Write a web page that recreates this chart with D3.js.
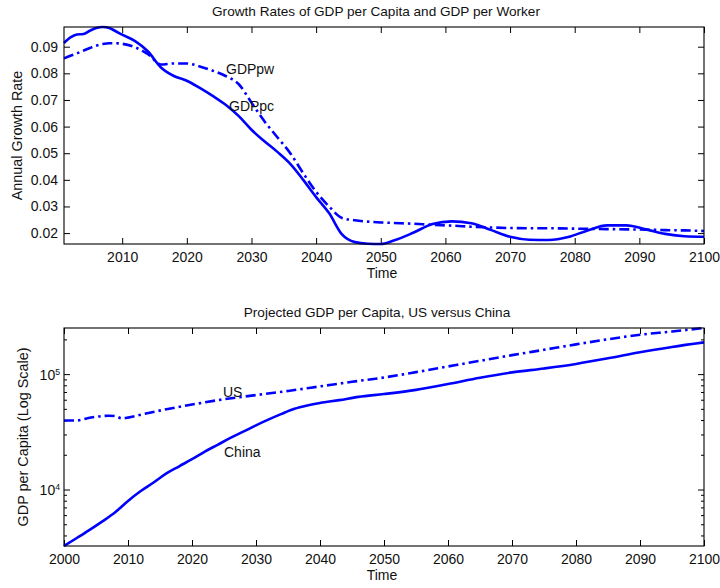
<!DOCTYPE html>
<html>
<head>
<meta charset="utf-8">
<script src="https://cdn.jsdelivr.net/npm/d3@7/dist/d3.min.js"></script>
<style>
  html, body { margin: 0; padding: 0; background: #fff; }
  svg { display: block; font-family: "Liberation Sans", Arial, sans-serif; }
  .tick text { fill: #111; }
</style>
</head>
<body>
<svg id="chart" width="720" height="588"></svg>
<script>
// ---- growth rates (upper panel) ----
const growthYears = [2001, 2002, 2003, 2004, 2005, 2006, 2007, 2008, 2009, 2010,
  2012, 2014, 2016, 2018, 2020, 2022, 2024, 2026, 2028, 2030,
  2032, 2034, 2036, 2038, 2040, 2042, 2044, 2046, 2048, 2050,
  2052, 2055, 2058, 2061, 2064, 2067, 2070, 2073, 2076, 2079,
  2082, 2085, 2088, 2091, 2094, 2097, 2100];
const gdpPerCapitaGrowth = [0.0914, 0.0935, 0.0946, 0.0948, 0.0960, 0.0970, 0.0974, 0.0970, 0.0958, 0.0945,
  0.0921, 0.0882, 0.0822, 0.0790, 0.0772, 0.0745, 0.0715, 0.0682, 0.0640, 0.0588,
  0.0545, 0.0505, 0.0460, 0.0400, 0.0335, 0.0275, 0.0195, 0.0166, 0.0160, 0.0159,
  0.0172, 0.0201, 0.0234, 0.0244, 0.0237, 0.0212, 0.0186, 0.0175, 0.0174, 0.0185,
  0.0210, 0.0229, 0.0229, 0.0214, 0.0197, 0.0188, 0.0186];
const gdpPerWorkerGrowth = [0.0856, 0.0866, 0.0875, 0.0885, 0.0895, 0.0904, 0.0910, 0.0913, 0.0913, 0.0911,
  0.0898, 0.0872, 0.0833, 0.0837, 0.0837, 0.0826, 0.0810, 0.0790, 0.0760, 0.0690,
  0.0620, 0.0560, 0.0500, 0.0425, 0.0355, 0.0300, 0.0257, 0.0248, 0.0243, 0.0240,
  0.0238, 0.0235, 0.0231, 0.0228, 0.0224, 0.0221, 0.0219, 0.0218, 0.0218, 0.0217,
  0.0216, 0.0215, 0.0214, 0.0213, 0.0211, 0.0210, 0.0208];
const growthTicks = [0.02, 0.03, 0.04, 0.05, 0.06, 0.07, 0.08, 0.09];
const growthYearTicks = [2010, 2020, 2030, 2040, 2050, 2060, 2070, 2080, 2090, 2100];

// ---- GDP per capita levels (lower panel) ----
const chinaYears = [2000, 2002, 2004, 2006, 2008, 2010, 2012, 2014, 2016, 2018,
  2020, 2022, 2024, 2026, 2028, 2030, 2032, 2034, 2036, 2038,
  2040, 2043, 2046, 2050, 2055, 2060, 2065, 2070, 2075, 2080,
  2085, 2090, 2095, 2100];
const chinaGdp = [3240, 3800, 4470, 5300, 6350, 7960, 9700, 11500, 13780, 15900,
  18300, 21300, 24400, 28000, 31700, 36000, 40500, 45200, 50000, 53500,
  56300, 59500, 63500, 67200, 73000, 82000, 93000, 103500, 112000, 122500,
  137000, 155000, 172000, 188300];
const usYears = [2000, 2002, 2004, 2006, 2007, 2008, 2009, 2010, 2012, 2016,
  2020, 2025, 2030, 2035, 2040, 2045, 2050, 2055, 2060, 2065,
  2070, 2075, 2080, 2085, 2090, 2095, 2100];
const usGdp = [39550, 39700, 41800, 43300, 43600, 43300, 41400, 42000, 44500, 49600,
  54500, 60600, 65800, 71500, 78300, 85800, 93500, 104000, 116500, 130500,
  146000, 162500, 181000, 200500, 219500, 234000, 251000];
const levelYearTicks = [2000, 2010, 2020, 2030, 2040, 2050, 2060, 2070, 2080, 2090, 2100];
const levelMajorTicks = [1e4, 1e5];

const svg = d3.select("#chart");
const FS = 14;
const BLUE = "#0000ff";
const DASHDOT = "10,4,2.5,4";

function frame(g, w, h) {
  g.append("rect").attr("width", w).attr("height", h)
    .attr("fill", "none").attr("stroke", "#000").attr("stroke-width", 1.1);
}
function clean(sel) {
  sel.select(".domain").remove();
  sel.selectAll(".tick line").attr("stroke", "#000");
  sel.selectAll(".tick text").attr("font-size", FS);
}

// ================= upper panel =================
const P1 = { left: 64, top: 27, w: 640, h: 217 };
const g1 = svg.append("g").attr("transform", `translate(${P1.left},${P1.top})`);

const x1 = d3.scaleLinear().domain([2001, 2100]).range([0, P1.w]);
const y1 = d3.scaleLinear()
  .domain(d3.extent(gdpPerCapitaGrowth.concat(gdpPerWorkerGrowth)))
  .range([P1.h, 0]);

g1.append("g").attr("transform", `translate(0,${P1.h})`)
  .call(d3.axisBottom(x1).tickValues(growthYearTicks).tickFormat(d3.format("d"))
    .tickSizeInner(-6).tickSizeOuter(0).tickPadding(8)).call(clean);
g1.append("g")
  .call(d3.axisTop(x1).tickValues(growthYearTicks).tickFormat("")
    .tickSizeInner(-6).tickSizeOuter(0)).call(clean);
g1.append("g")
  .call(d3.axisLeft(y1).tickValues(growthTicks).tickFormat(d3.format(".2f"))
    .tickSizeInner(-6).tickSizeOuter(0).tickPadding(6)).call(clean);
g1.append("g").attr("transform", `translate(${P1.w},0)`)
  .call(d3.axisRight(y1).tickValues(growthTicks).tickFormat("")
    .tickSizeInner(-6).tickSizeOuter(0)).call(clean);

svg.append("clipPath").attr("id", "clip1")
  .append("rect").attr("x", -2).attr("y", -2).attr("width", P1.w + 4).attr("height", P1.h + 4);

const line1 = (vals) => d3.line()
  .x((d, i) => x1(growthYears[i])).y(d => y1(d))
  .curve(d3.curveMonotoneX)(vals);

g1.append("path").attr("d", line1(gdpPerWorkerGrowth))
  .attr("fill", "none").attr("stroke", BLUE).attr("stroke-width", 2.6)
  .attr("stroke-dasharray", DASHDOT).attr("clip-path", "url(#clip1)");
g1.append("path").attr("d", line1(gdpPerCapitaGrowth))
  .attr("fill", "none").attr("stroke", BLUE).attr("stroke-width", 2.6)
  .attr("clip-path", "url(#clip1)");

frame(g1, P1.w, P1.h);

svg.append("text").attr("x", 226).attr("y", 74).attr("font-size", FS).attr("fill", "#111").text("GDPpw");
svg.append("text").attr("x", 229).attr("y", 111).attr("font-size", FS).attr("fill", "#111").text("GDPpc");

svg.append("text").attr("x", 376).attr("y", 16).attr("text-anchor", "middle")
  .attr("font-size", 13.6).attr("fill", "#111")
  .text("Growth Rates of GDP per Capita and GDP per Worker");
svg.append("text").attr("x", 382).attr("y", 278).attr("text-anchor", "middle")
  .attr("font-size", FS).attr("fill", "#111").text("Time");
svg.append("text").attr("transform", "translate(22,135.5) rotate(-90)")
  .attr("text-anchor", "middle").attr("font-size", 14.4).attr("fill", "#111")
  .text("Annual Growth Rate");

// ================= lower panel =================
const P2 = { left: 64, top: 328, w: 640, h: 218 };
const g2 = svg.append("g").attr("transform", `translate(${P2.left},${P2.top})`);

const x2 = d3.scaleLinear().domain([2000, 2100]).range([0, P2.w]);
const y2 = d3.scaleLog()
  .domain(d3.extent(chinaGdp.concat(usGdp)))
  .range([P2.h, 0]);
const minorTicks = y2.ticks().filter(v => !levelMajorTicks.includes(v));

g2.append("g").attr("transform", `translate(0,${P2.h})`)
  .call(d3.axisBottom(x2).tickValues(levelYearTicks).tickFormat(d3.format("d"))
    .tickSizeInner(-6).tickSizeOuter(0).tickPadding(8)).call(clean);
g2.append("g")
  .call(d3.axisTop(x2).tickValues(levelYearTicks).tickFormat("")
    .tickSizeInner(-6).tickSizeOuter(0)).call(clean);
// major decades with power-of-ten labels
const yMaj = g2.append("g")
  .call(d3.axisLeft(y2).tickValues(levelMajorTicks).tickFormat("")
    .tickSizeInner(-6).tickSizeOuter(0)).call(clean);
yMaj.selectAll(".tick").each(function (d) {
  const t = d3.select(this).append("text")
    .attr("x", -4).attr("dy", "0.35em").attr("text-anchor", "end")
    .attr("font-size", FS).attr("fill", "#111");
  t.append("tspan").text("10");
  t.append("tspan").attr("dy", "-0.55em").attr("font-size", FS * 0.62)
    .text(String(Math.round(Math.log10(d))));
});
g2.append("g")
  .call(d3.axisLeft(y2).tickValues(minorTicks).tickFormat("")
    .tickSizeInner(-3).tickSizeOuter(0)).call(clean);
g2.append("g").attr("transform", `translate(${P2.w},0)`)
  .call(d3.axisRight(y2).tickValues(levelMajorTicks).tickFormat("")
    .tickSizeInner(-6).tickSizeOuter(0)).call(clean);
g2.append("g").attr("transform", `translate(${P2.w},0)`)
  .call(d3.axisRight(y2).tickValues(minorTicks).tickFormat("")
    .tickSizeInner(-3).tickSizeOuter(0)).call(clean);

svg.append("clipPath").attr("id", "clip2")
  .append("rect").attr("x", -2).attr("y", -2).attr("width", P2.w + 4).attr("height", P2.h + 4);

const lineLevel = (years, vals) => d3.line()
  .x((d, i) => x2(years[i])).y(d => y2(d))
  .curve(d3.curveMonotoneX)(vals);

g2.append("path").attr("d", lineLevel(usYears, usGdp))
  .attr("fill", "none").attr("stroke", BLUE).attr("stroke-width", 2.6)
  .attr("stroke-dasharray", DASHDOT).attr("clip-path", "url(#clip2)");
g2.append("path").attr("d", lineLevel(chinaYears, chinaGdp))
  .attr("fill", "none").attr("stroke", BLUE).attr("stroke-width", 2.6)
  .attr("clip-path", "url(#clip2)");

frame(g2, P2.w, P2.h);

svg.append("text").attr("x", 223).attr("y", 397).attr("font-size", FS).attr("fill", "#111").text("US");
svg.append("text").attr("x", 224).attr("y", 457).attr("font-size", FS).attr("fill", "#111").text("China");

svg.append("text").attr("x", 377).attr("y", 317).attr("text-anchor", "middle")
  .attr("font-size", 13.6).attr("fill", "#111")
  .text("Projected GDP per Capita, US versus China");
svg.append("text").attr("x", 382).attr("y", 580).attr("text-anchor", "middle")
  .attr("font-size", FS).attr("fill", "#111").text("Time");
svg.append("text").attr("transform", "translate(28,437) rotate(-90)")
  .attr("text-anchor", "middle").attr("font-size", 14.4).attr("fill", "#111")
  .text("GDP  per Capita (Log Scale)");
</script>
</body>
</html>
